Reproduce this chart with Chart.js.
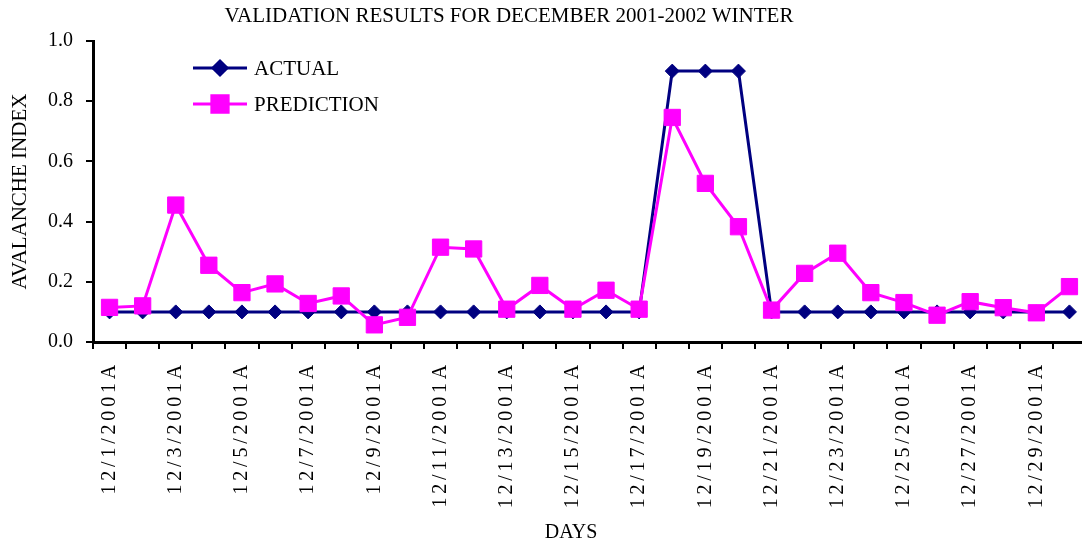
<!DOCTYPE html>
<html>
<head>
<meta charset="utf-8">
<script src="https://cdn.jsdelivr.net/npm/chart.js@4/dist/chart.umd.min.js"></script>
<style>
  html, body { margin: 0; padding: 0; background: #fff; overflow: hidden; }
  #wrap { position: relative; width: 1086px; height: 546px; }
</style>
</head>
<body>
<div id="wrap"><canvas id="chart"></canvas></div>
<script>
// values
const days = [
  '12/1/2001A', '12/2/2001A', '12/3/2001A', '12/4/2001A', '12/5/2001A',
  '12/6/2001A', '12/7/2001A', '12/8/2001A', '12/9/2001A', '12/10/2001A',
  '12/11/2001A', '12/12/2001A', '12/13/2001A', '12/14/2001A', '12/15/2001A',
  '12/16/2001A', '12/17/2001A', '12/18/2001A', '12/19/2001A', '12/20/2001A',
  '12/21/2001A', '12/22/2001A', '12/23/2001A', '12/24/2001A', '12/25/2001A',
  '12/26/2001A', '12/27/2001A', '12/28/2001A', '12/29/2001A', '12/30/2001A'
];
const actual = [
  0.1, 0.1, 0.1, 0.1, 0.1, 0.1, 0.1, 0.1, 0.1, 0.1,
  0.1, 0.1, 0.1, 0.1, 0.1, 0.1, 0.1, 0.9, 0.9, 0.9,
  0.1, 0.1, 0.1, 0.1, 0.1, 0.1, 0.1, 0.1, 0.1, 0.1
];
const prediction = [
  0.115, 0.12, 0.455, 0.255, 0.164, 0.193, 0.128, 0.153, 0.057, 0.082,
  0.315, 0.309, 0.109, 0.188, 0.109, 0.172, 0.109, 0.746, 0.527, 0.383,
  0.106, 0.228, 0.295, 0.164, 0.131, 0.089, 0.134, 0.114, 0.097, 0.184
];
const yTicks = [0, 0.2, 0.4, 0.6, 0.8, 1.0];

const NAVY = '#000080';
const MAGENTA = '#ff00ff';
const SERIF = '"Liberation Serif", "Times New Roman", serif';

// titles + legend drawn by hand (the original puts them off-centre / inside the plot)
const decorations = {
  id: 'decorations',
  beforeDraw(chart) {
    // spaced-out date labels on the x axis
    const sx = chart.scales.x;
    if (sx && !sx._spaced) {
      const orig = sx.drawLabels.bind(sx);
      sx.drawLabels = function (area) {
        const ctx = chart.ctx;
        ctx.save();
        ctx.letterSpacing = '3.8px';
        orig(area);
        ctx.restore();
      };
      sx._spaced = true;
    }
  },
  afterDraw(chart) {
    const ctx = chart.ctx;
    ctx.save();
    ctx.fillStyle = '#000';
    ctx.textBaseline = 'middle';
    ctx.textAlign = 'center';
    ctx.font = '21px ' + SERIF;
    ctx.fillText('VALIDATION RESULTS FOR DECEMBER 2001-2002 WINTER', 509, 16);
    ctx.font = '20px ' + SERIF;
    ctx.fillText('DAYS', 571, 533);

    const items = [
      { text: 'ACTUAL', color: NAVY, style: 'rectRot', radius: 7, y: 68 },
      { text: 'PREDICTION', color: MAGENTA, style: 'rect', radius: 11.5, y: 104 }
    ];
    ctx.textAlign = 'left';
    ctx.font = '21px ' + SERIF;
    items.forEach(it => {
      ctx.strokeStyle = it.color;
      ctx.lineWidth = 3;
      ctx.beginPath();
      ctx.moveTo(193, it.y);
      ctx.lineTo(247, it.y);
      ctx.stroke();
      ctx.fillStyle = it.color;
      Chart.helpers.drawPoint(ctx, {
        pointStyle: it.style, radius: it.radius, rotation: 0, borderWidth: 1
      }, 220, it.y);
      ctx.fillStyle = '#000';
      ctx.fillText(it.text, 254, it.y + 1);
    });
    ctx.restore();
  }
};

new Chart(document.getElementById('chart'), {
  type: 'line',
  data: {
    labels: days,
    datasets: [
      {
        label: 'ACTUAL',
        data: actual,
        order: 1,
        borderColor: NAVY,
        backgroundColor: NAVY,
        borderWidth: 3,
        pointStyle: 'rectRot',
        pointRadius: 7,
        pointBorderWidth: 1,
        pointBorderColor: NAVY,
        tension: 0
      },
      {
        label: 'PREDICTION',
        data: prediction,
        order: 0,
        borderColor: MAGENTA,
        backgroundColor: MAGENTA,
        borderWidth: 3,
        pointStyle: 'rect',
        pointRadius: 11.5,
        pointBorderWidth: 1,
        pointBorderColor: MAGENTA,
        tension: 0
      }
    ]
  },
  options: {
    responsive: true,
    maintainAspectRatio: false,
    animation: false,
    layout: { autoPadding: false, padding: { top: 41, left: 0, right: 0, bottom: 0 } },
    plugins: {
      legend: { display: false },
      title: { display: false },
      tooltip: { enabled: false }
    },
    scales: {
      x: {
        offset: true,
        grid: {
          offset: true,
          drawOnChartArea: false,
          drawTicks: true,
          tickLength: 7,
          color: '#000',
          lineWidth: 2
        },
        border: { color: '#000', width: 3 },
        ticks: {
          autoSkip: false,
          minRotation: 90,
          maxRotation: 90,
          padding: 12,
          color: '#000',
          font: { family: SERIF, size: 20 },
          callback: (val, i) => (i % 2 === 0 ? days[i] : '')
        },
        afterFit: s => {
          s.height = 204;
          s.paddingLeft = 0;
          s.paddingRight = 0;
        }
      },
      y: {
        min: 0,
        max: 1,
        afterBuildTicks: s => { s.ticks = yTicks.map(v => ({ value: v })); },
        grid: {
          drawOnChartArea: false,
          drawTicks: true,
          tickLength: 7,
          color: '#000',
          lineWidth: 2
        },
        border: { color: '#000', width: 3 },
        ticks: {
          padding: 13,
          color: '#000',
          font: { family: SERIF, size: 20 },
          callback: v => v.toFixed(1)
        },
        title: {
          display: true,
          text: 'AVALANCHE INDEX',
          color: '#000',
          font: { family: SERIF, size: 21 },
          padding: { top: 8, bottom: 0 }
        },
        afterFit: s => {
          s.width = 93;
          s.paddingTop = 0;
          s.paddingBottom = 0;
        }
      }
    }
  },
  plugins: [decorations]
});
</script>
</body>
</html>
